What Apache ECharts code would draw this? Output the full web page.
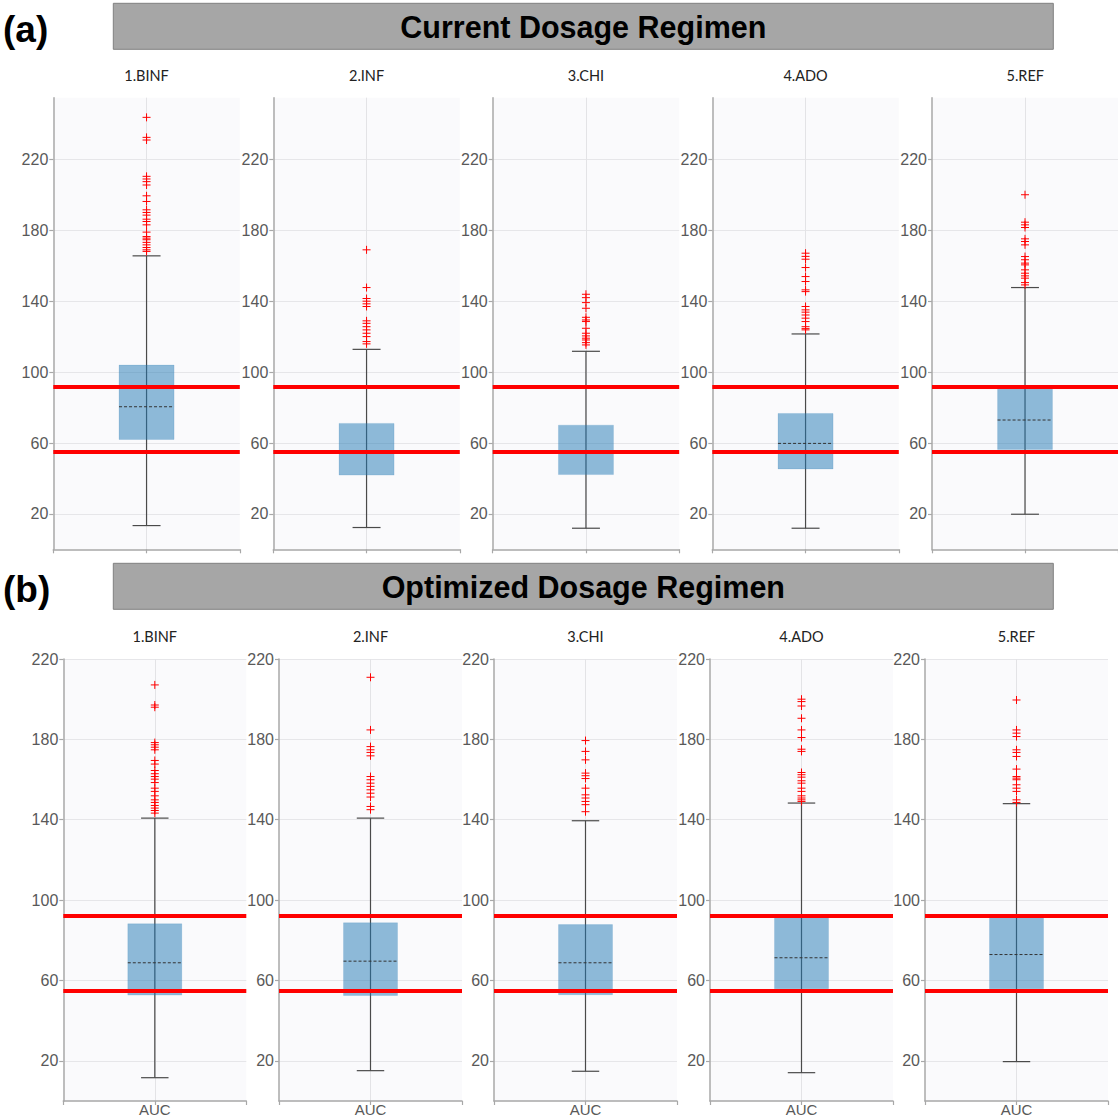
<!DOCTYPE html>
<html>
<head>
<meta charset="utf-8">
<script src="https://cdn.jsdelivr.net/npm/echarts@6/dist/echarts.min.js"></script>
<style>
html,body{margin:0;padding:0;background:#ffffff;}
#chart{width:1118px;height:1120px;}
</style>
</head>
<body>
<div id="chart"></div>
<script>
// ---------- DATA ----------
const panelNames = ['1.BINF', '2.INF', '3.CHI', '4.ADO', '5.REF'];
const rowTitles = ['Current Dosage Regimen', 'Optimized Dosage Regimen'];
const rowTags = ['(a)', '(b)'];
const xCategories = ['left', 'AUC', 'right'];
const yTickValues = [20, 60, 100, 140, 180, 220];
const targetRange = [55, 92];
const currentYMax = 255;
const optimizedYMax = 220;

// [lower whisker, Q1, median, Q3, upper whisker]
const currentBox = [
  [13.4, 62.0, 80.5, 104.0, 165.7],
  [12.3, 41.9, 55.0, 71.1, 112.9],
  [11.9, 42.2, 55.0, 70.1, 111.8],
  [11.9, 45.4, 59.8, 76.7, 121.6],
  [19.8, 56.4, 73.0, 90.9, 147.8]
];
const optimizedBox = [
  [11.6, 52.7, 68.8, 88.2, 140.8],
  [15.1, 52.5, 69.6, 88.7, 140.8],
  [14.8, 52.9, 68.8, 87.8, 139.5],
  [14.1, 55.9, 71.3, 92.0, 148.3],
  [19.6, 55.9, 72.9, 91.5, 148.0]
];

const currentOutliers = [
  [243.9, 232.6, 231.1, 210.6, 209.1, 207.6, 205.7, 199.6, 196.4, 191.7, 190.2, 188.7, 186.4, 185.1, 183.2, 179.1, 176.6, 175.7, 174.8, 173.3, 171.9, 170.4, 169.1, 168.2],
  [169.1, 147.8, 141.6, 140.1, 138.6, 137.1, 129.0, 127.6, 125.7, 123.9, 122.0, 120.1, 117.3, 116.0],
  [144.0, 142.1, 139.3, 136.1, 131.0, 129.5, 128.6, 124.8, 122.0, 120.5, 119.2, 118.2, 116.7, 115.4],
  [167.2, 165.4, 163.8, 159.1, 154.0, 151.2, 146.5, 145.5, 137.1, 135.2, 133.9, 132.3, 130.5, 128.6, 125.7, 124.6, 123.9],
  [200.2, 184.7, 183.2, 181.7, 175.3, 173.8, 171.9, 165.3, 163.5, 161.6, 160.6, 157.8, 155.9, 154.4, 153.1, 150.6, 149.3]
];
const optimizedOutliers = [
  [207.1, 197.1, 196.0, 178.4, 177.3, 176.1, 174.8, 169.5, 167.7, 164.5, 162.9, 161.5, 160.2, 158.5, 155.7, 154.1, 151.9, 149.9, 148.6, 147.1, 145.8, 144.6, 143.3],
  [210.9, 184.7, 176.4, 174.8, 173.5, 171.8, 161.5, 159.9, 158.2, 156.6, 154.9, 153.2, 151.3, 146.6, 145.0],
  [179.4, 174.0, 169.8, 163.2, 161.9, 160.5, 155.7, 152.4, 150.8, 149.1, 147.5, 144.0],
  [200.0, 198.8, 196.6, 190.5, 184.7, 180.9, 175.1, 174.0, 163.5, 162.4, 161.2, 159.4, 158.2, 155.7, 154.1, 151.9, 150.8, 149.9, 149.1],
  [199.6, 184.7, 183.1, 181.4, 174.8, 173.5, 171.5, 165.2, 161.5, 160.7, 159.9, 157.4, 155.7, 154.1, 149.9, 148.6]
];

// ---------- LAYOUT / STYLE ----------
const FONT_SANS = '"Liberation Sans", Arial, sans-serif';
const rows = [
  { box: currentBox, out: currentOutliers, yMax: currentYMax, lefts: [53.3, 273.3, 492.7, 712.3, 932.0],
    top: 97.7, width: 186.5, height: 451.6, showX: false, titleY: 75.5,
    banner: { y: 3.3, h: 46 }, tagY: 29 },
  { box: optimizedBox, out: optimizedOutliers, yMax: optimizedYMax, lefts: [63.3, 279.0, 494.0, 710.0, 925.0],
    top: 659, width: 183, height: 442, showX: true, titleY: 636,
    banner: { y: 563.3, h: 46 }, tagY: 589 }
];

function renderBox(params, api) {
  const x = api.value(0);
  const pLo = api.coord([x, api.value(1)]);
  const pQ1 = api.coord([x, api.value(2)]);
  const pMed = api.coord([x, api.value(3)]);
  const pQ3 = api.coord([x, api.value(4)]);
  const pHi = api.coord([x, api.value(5)]);
  const band = api.size([1, 0])[0];
  const bw = band * 0.59, cw = band * 0.3;
  const cx = pLo[0];
  const wStyle = { stroke: '#4a4a4a', lineWidth: 1.2, fill: null };
  return {
    type: 'group',
    children: [
      { type: 'line', shape: { x1: cx, y1: pHi[1], x2: cx, y2: pLo[1] }, style: wStyle },
      { type: 'line', shape: { x1: cx - cw / 2, y1: pHi[1], x2: cx + cw / 2, y2: pHi[1] }, style: wStyle },
      { type: 'line', shape: { x1: cx - cw / 2, y1: pLo[1], x2: cx + cw / 2, y2: pLo[1] }, style: wStyle },
      { type: 'rect', shape: { x: cx - bw / 2, y: pQ3[1], width: bw, height: pQ1[1] - pQ3[1] },
        style: { fill: 'rgba(31,119,180,0.5)', stroke: 'rgba(31,119,180,0.15)', lineWidth: 1 } },
      { type: 'line', shape: { x1: cx - bw / 2, y1: pMed[1], x2: cx + bw / 2, y2: pMed[1] },
        style: { stroke: '#333333', lineWidth: 1, lineDash: [3, 2], fill: null } }
    ]
  };
}

const grids = [], xAxes = [], yAxes = [], series = [], graphics = [];

rows.forEach((row, r) => {
  // banner
  graphics.push({ type: 'rect', left: null, x: 113.3, y: row.banner.y,
    shape: { x: 0, y: 0, width: 940, height: row.banner.h },
    style: { fill: '#a6a6a6', stroke: '#808080', lineWidth: 1 } });
  graphics.push({ type: 'text', x: 583.3, y: row.banner.y + row.banner.h / 2 + 1,
    style: { text: rowTitles[r], font: 'bold 30.5px ' + FONT_SANS, fill: '#000000', align: 'center', verticalAlign: 'middle' } });
  graphics.push({ type: 'text', x: 3, y: row.tagY,
    style: { text: rowTags[r], font: 'bold 37px ' + FONT_SANS, fill: '#000000', align: 'left', verticalAlign: 'middle' } });

  panelNames.forEach((name, i) => {
    const g = r * 5 + i;
    grids.push({ left: row.lefts[i], top: row.top, width: row.width, height: row.height,
      show: true, backgroundColor: '#fafafc', borderWidth: 0, containLabel: false });
    graphics.push({ type: 'text', x: row.lefts[i] + row.width / 2, y: row.titleY,
      style: { text: name, font: '14.5px Lato, "Noto Sans", sans-serif', fill: '#222222', align: 'center', verticalAlign: 'middle' } });

    xAxes.push({
      gridIndex: g, type: 'category', data: xCategories, boundaryGap: false,
      axisLine: { show: true, lineStyle: { color: '#a8a8a8', width: 1.5 } },
      axisTick: { show: true, interval: 0, length: 4, lineStyle: { color: '#a8a8a8', width: 1.2 } },
      axisLabel: { show: row.showX, interval: 0, margin: 1, fontSize: 15, color: '#595959', fontFamily: FONT_SANS,
        formatter: v => (v === 'AUC' ? v : '') },
      splitLine: { show: true, lineStyle: { color: ['rgba(0,0,0,0)', '#e3e3e6', 'rgba(0,0,0,0)'], width: 1 } }
    });
    yAxes.push({
      gridIndex: g, type: 'value', min: 0, max: row.yMax,
      axisLine: { show: true, lineStyle: { color: '#a8a8a8', width: 1.5 } },
      axisTick: { show: true, length: 4, customValues: yTickValues, lineStyle: { color: '#a8a8a8', width: 1.2 } },
      axisLabel: { show: true, customValues: yTickValues, margin: 5, fontSize: 16, color: '#595959', fontFamily: FONT_SANS },
      splitLine: { show: true, lineStyle: { color: '#e6e6e9', width: 1 } }
    });

    const b = row.box[i];
    series.push({
      type: 'custom', xAxisIndex: g, yAxisIndex: g, silent: true, z: 2,
      renderItem: renderBox,
      encode: { x: 0, y: [1, 2, 3, 4, 5] },
      data: [['AUC', b[0], b[1], b[2], b[3], b[4]]]
    });
    series.push({
      type: 'scatter', xAxisIndex: g, yAxisIndex: g, silent: true, z: 3,
      symbol: 'path://M5,0L5,10M0,5L10,5', symbolSize: 8,
      itemStyle: { color: 'rgba(0,0,0,0)', borderColor: '#ff0000', borderWidth: 1, opacity: 1 },
      data: row.out[i].map(v => ['AUC', v]),
      markLine: {
        silent: true, symbol: 'none', label: { show: false }, animation: false,
        lineStyle: { color: '#ff0000', width: 4, type: 'solid' },
        emphasis: { disabled: true },
        data: targetRange.map(v => ({ yAxis: v }))
      }
    });
  });
});

const chart = echarts.init(document.getElementById('chart'), null, { renderer: 'svg', width: 1118, height: 1120 });
chart.setOption({
  animation: false,
  backgroundColor: '#ffffff',
  grid: grids,
  xAxis: xAxes,
  yAxis: yAxes,
  series: series,
  graphic: graphics
});
</script>
</body>
</html>
